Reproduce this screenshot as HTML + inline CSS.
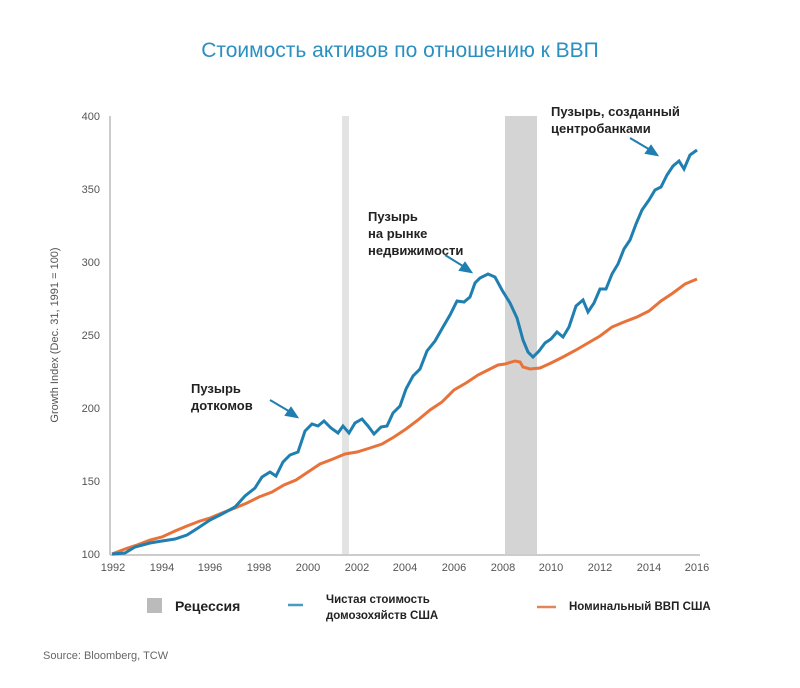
<!DOCTYPE html>
<html><head><meta charset="utf-8"><style>
body{margin:0;background:#fff;width:800px;height:683px;overflow:hidden}
svg text{font-family:"Liberation Sans","DejaVu Sans",sans-serif}
</style></head><body>
<svg width="800" height="683" viewBox="0 0 800 683" xmlns="http://www.w3.org/2000/svg">
<text x="400" y="57" text-anchor="middle" font-size="21" fill="#2a8fc1">Стоимость активов по отношению к ВВП</text>
<rect x="342" y="116" width="7" height="438" fill="#e3e3e3"/>
<rect x="505" y="116" width="32" height="438" fill="#d4d4d4"/>
<line x1="110" y1="116" x2="110" y2="555" stroke="#bbb" stroke-width="1.5"/>
<line x1="110" y1="555" x2="700" y2="555" stroke="#bbb" stroke-width="1.5"/>
<g font-size="11" fill="#555" text-anchor="end">
<text x="100" y="120">400</text><text x="100" y="193">350</text><text x="100" y="266">300</text><text x="100" y="339">250</text><text x="100" y="412">200</text><text x="100" y="485">150</text><text x="100" y="558">100</text>
</g>
<g font-size="11" fill="#555" text-anchor="middle">
<text x="113" y="571">1992</text><text x="162" y="571">1994</text><text x="210" y="571">1996</text><text x="259" y="571">1998</text><text x="308" y="571">2000</text><text x="357" y="571">2002</text><text x="405" y="571">2004</text><text x="454" y="571">2006</text><text x="503" y="571">2008</text><text x="551" y="571">2010</text><text x="600" y="571">2012</text><text x="649" y="571">2014</text><text x="697" y="571">2016</text>
</g>
<text transform="translate(58,335) rotate(-90)" text-anchor="middle" font-size="11" fill="#555">Growth Index (Dec. 31, 1991 = 100)</text>
<polyline fill="none" stroke="#e8733a" stroke-width="3" points="112,554 125,549 137,545 150,540 162,537 175,531 187,526 200,521 210,518 222,513 235,508 247,503 259,497 272,492 284,485 296,480 308,472 320,464 333,459 345,454 357,452 370,448 382,444 394,437 406,429 418,420 430,410 442,402 454,390 466,383 478,375 490,369 498,365 505,364 515,361 520,362 523,367 530,369 540,368 551,363 563,357 576,350 588,343 600,336 612,327 624,322 637,317 649,311 661,301 673,293 685,284 697,279"/>
<polyline fill="none" stroke="#1f7fb0" stroke-width="3" points="112,554 125,553 135,547 150,543 162,541 175,539 187,535 198,528 210,520 222,514 235,507 245,496 255,488 262,477 270,472 276,476 283,462 290,455 298,452 305,431 312,424 318,426 324,421 331,428 338,433 343,426 349,433 355,423 362,419 368,426 374,434 381,427 387,426 393,413 400,406 406,389 413,376 420,369 427,351 435,341 443,327 450,315 457,301 464,302 470,297 475,283 480,278 488,274 495,277 502,290 510,303 517,318 523,340 528,352 533,357 539,351 545,343 551,339 557,332 563,337 569,327 576,306 583,300 588,312 594,303 600,289 606,289 612,274 618,264 624,249 630,240 636,224 642,210 649,200 655,190 661,187 667,175 673,166 679,161 684,169 690,155 697,150"/>
<g font-size="13" font-weight="bold" fill="#222">
<text x="191" y="393">Пузырь</text><text x="191" y="410">доткомов</text>
<text x="368" y="221">Пузырь</text><text x="368" y="238">на рынке</text><text x="368" y="255">недвижимости</text>
<text x="551" y="116">Пузырь, созданный</text><text x="551" y="133">центробанками</text>
</g>
<g stroke="#1f7fb0" stroke-width="2" fill="#1f7fb0">
<line x1="270" y1="400" x2="292" y2="413"/><polygon points="297,417 286,415 291,408"/>
<line x1="445" y1="255" x2="466" y2="268"/><polygon points="471,272 460,270 465,263"/>
<line x1="630" y1="138" x2="652" y2="151"/><polygon points="657,155 646,153 651,146"/>
</g>
<rect x="147" y="598" width="15" height="15" fill="#bbb"/>
<text x="175" y="611" font-size="14" font-weight="bold" fill="#222">Рецессия</text>
<line x1="288" y1="605" x2="303" y2="605" stroke="#4a9ac2" stroke-width="2.5"/>
<text x="326" y="603" font-size="11.5" font-weight="bold" fill="#222">Чистая стоимость</text>
<text x="326" y="619" font-size="11.5" font-weight="bold" fill="#222">домозохяйств США</text>
<line x1="537" y1="607" x2="556" y2="607" stroke="#e0865a" stroke-width="2.5"/>
<text x="569" y="610" font-size="11.5" font-weight="bold" fill="#222">Номинальный ВВП США</text>
<text x="43" y="659" font-size="11" fill="#666">Source: Bloomberg, TCW</text>
</svg>
</body></html>
